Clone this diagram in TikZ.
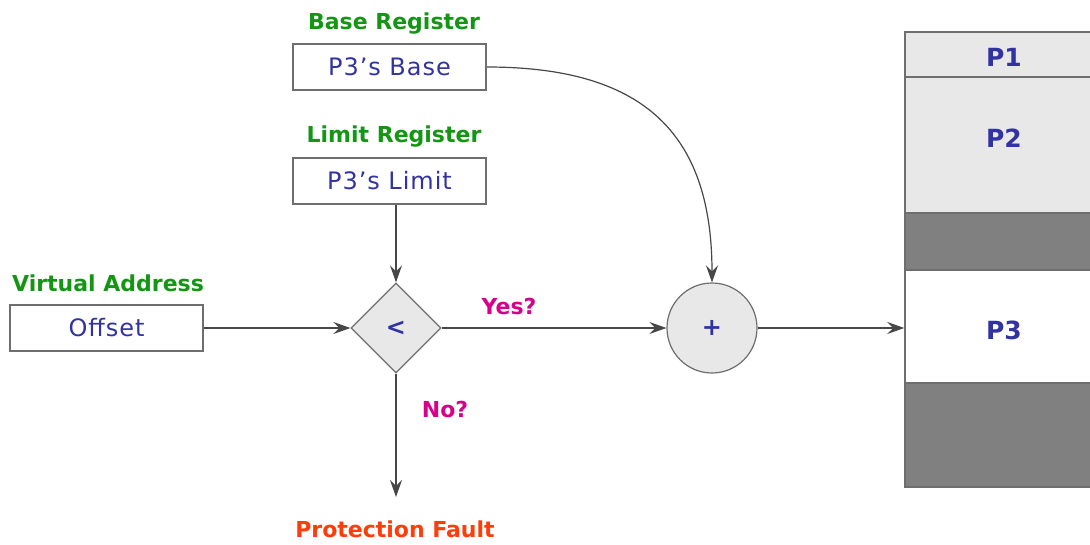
\documentclass[tikz,border=0pt]{standalone}
\usepackage{fontspec}
\setmainfont{DejaVu Sans}
\newfontfamily\boxfont[LetterSpace=4]{DejaVu Sans}
\usetikzlibrary{arrows.meta,shapes.geometric}
\definecolor{labgreen}{RGB}{20,150,20}
\definecolor{txtblue}{RGB}{50,50,160}
\definecolor{askpink}{RGB}{215,0,140}
\definecolor{faultred}{RGB}{255,60,10}
\definecolor{edgegray}{RGB}{110,110,110}
\definecolor{lightfill}{RGB}{232,232,232}
\definecolor{holefill}{RGB}{128,128,128}

\begin{document}
\begin{tikzpicture}[x=1pt,y=-1pt,
    reg/.style={draw=edgegray,line width=1.5pt,minimum width=193pt,minimum height=46pt,inner sep=0pt,
      text=txtblue,font=\boxfont\fontsize{24}{28}\selectfont},
    title/.style={anchor=base,inner sep=0pt,font=\bfseries\fontsize{22}{26}\selectfont},
    ask/.style={title,text=askpink},
    seg/.style={draw=edgegray,line width=1.5pt,minimum width=200pt,inner sep=0pt},
    part/.style={text=txtblue,inner sep=0pt,font=\bfseries\fontsize{25}{30}\selectfont},
    link/.style={draw=black!72,line width=1.2pt,-{Stealth[length=17pt,width=12pt,inset=6pt]}}]
    \useasboundingbox (0,0) rectangle (1090,544);

    \node[title,text=labgreen] (basetitle) at (394,29) {Base Register};
    \node[reg] (base) at (389.5,67) {P3’s Base};
    \node[title,text=labgreen] (limittitle) at (394,142) {Limit Register};
    \node[reg] (limit) at (389.5,181) {P3’s Limit};
    \node[title,text=labgreen] (vatitle) at (108,291) {Virtual Address};
    \node[reg] (offset) at (106.5,328) {Offset};

    \node[diamond,draw=edgegray,line width=1.2pt,fill=lightfill,minimum width=90pt,minimum height=90pt,
      inner sep=0pt,text=txtblue,font=\bfseries\fontsize{24}{28}\selectfont] (cmp) at (396,328) {<};
    \node[circle,draw=edgegray,line width=1.2pt,fill=lightfill,minimum size=90pt,
      inner sep=0pt,text=txtblue,font=\bfseries\fontsize{24}{28}\selectfont] (plus) at (712,328) {+};

    \node[ask] (yes) at (509,314) {Yes?};
    \node[ask] (no) at (445,417) {No?};
    \node[title,text=faultred] (fault) at (395,537) {Protection Fault};
    \coordinate (faultend) at (396,497);

    \node[seg,fill=lightfill,minimum height=45pt] (p1) at (1005,54.5) {};
    \node[seg,fill=lightfill,minimum height=136pt] (p2) at (1005,145) {};
    \node[seg,fill=holefill,minimum height=57pt] (hole1) at (1005,241.5) {};
    \node[seg,fill=white,minimum height=113pt] (p3) at (1005,326.5) {};
    \node[seg,fill=holefill,minimum height=104pt] (hole2) at (1005,435) {};
    \node[part] (lab1) at (1004,57) {P1};
    \node[part] (lab2) at (1004,138) {P2};
    \node[part] (lab3) at (1004,330) {P3};

    \draw[link] (offset) -- (cmp);
    \draw[link] (limit.south -| cmp) -- (cmp);
    \draw[link] (cmp) -- (plus);
    \draw[link] (cmp) -- (faultend);
    \draw[link] (base.east) .. controls (640,67) and (712,130) .. (plus.north);
    \draw[link] (plus) -- (plus -| p3.west);
\end{tikzpicture}
\end{document}
